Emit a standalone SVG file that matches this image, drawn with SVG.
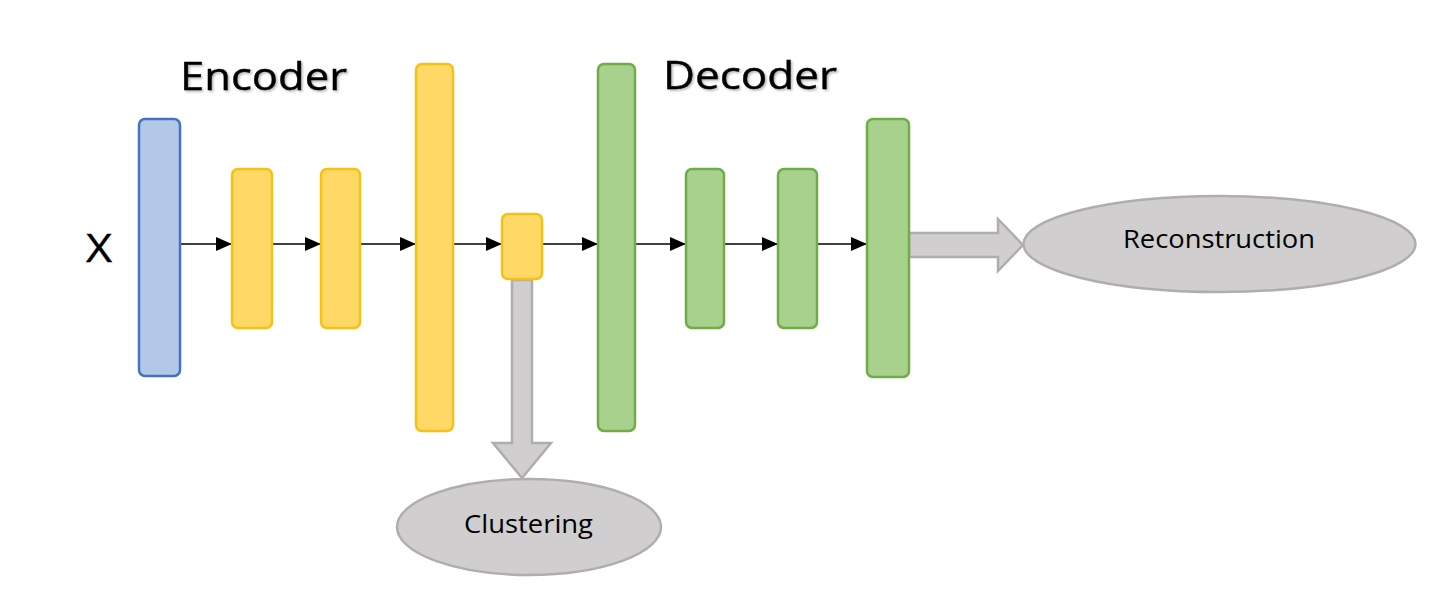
<svg xmlns="http://www.w3.org/2000/svg" width="1442" height="600" viewBox="0 0 1442 600">
  <style>
    .blue { fill: #b4c7e7; stroke: #4472c4; stroke-width: 2.5; }
    .yel { fill: #ffd966; stroke: #f5c116; stroke-width: 2.5; }
    .grn { fill: #a9d18e; stroke: #70ad47; stroke-width: 2.5; }
    .gry { fill: #d0cece; stroke: #b0adad; stroke-width: 2.5; }
    .conn { stroke: #000; stroke-width: 1.3; fill: none; marker-end: url(#ah); }
    .title { font-family: "Open Sans", "Liberation Sans", sans-serif; font-size: 38px; fill: #000; stroke: #000; stroke-width: 0.4; }
    .lbl { font-family: "Open Sans", "Liberation Sans", sans-serif; font-size: 25px; fill: #000; }
  </style>
  <defs>
    <marker id="ah" viewBox="0 0 16 14" refX="16" refY="7" markerWidth="16" markerHeight="14" markerUnits="userSpaceOnUse" orient="auto">
      <path d="M0,0 L16,7 L0,14 Z" fill="#000"/>
    </marker>
    <filter id="sh" x="-10%" y="-20%" width="120%" height="150%">
      <feDropShadow dx="1.5" dy="1.5" stdDeviation="1" flood-color="#000" flood-opacity="0.3"/>
    </filter>
  </defs>
  <rect width="1442" height="600" fill="#fff"/>

  <g id="labels">
    <text class="title" x="180" y="90" textLength="167" lengthAdjust="spacingAndGlyphs" filter="url(#sh)">Encoder</text>
    <text class="title" x="663" y="89" textLength="174" lengthAdjust="spacingAndGlyphs" filter="url(#sh)">Decoder</text>
    <text class="title" x="86" y="262" textLength="26" lengthAdjust="spacingAndGlyphs">X</text>
  </g>

  <g id="connectors">
    <line class="conn" x1="180" y1="244" x2="232" y2="244"/>
    <line class="conn" x1="272" y1="244" x2="321" y2="244"/>
    <line class="conn" x1="360" y1="244" x2="416" y2="244"/>
    <line class="conn" x1="453" y1="244" x2="502" y2="244"/>
    <line class="conn" x1="542" y1="244" x2="598" y2="244"/>
    <line class="conn" x1="635" y1="244" x2="686" y2="244"/>
    <line class="conn" x1="724" y1="244" x2="778" y2="244"/>
    <line class="conn" x1="817" y1="244" x2="867" y2="244"/>
    <path id="arrow-clustering" class="gry" d="M512,280 L532,280 L532,443 L551,443 L522,478 L493,443 L512,443 Z"/>
    <path id="arrow-reconstruction" class="gry" d="M909,233 L998,233 L998,219 L1023,245 L998,271 L998,257 L909,257 Z"/>
  </g>

  <g id="input-x"><rect class="blue" x="139" y="119" width="41" height="257" rx="6"/></g>
  <g id="enc1"><rect class="yel" x="232" y="169" width="40" height="159" rx="6"/></g>
  <g id="enc2"><rect class="yel" x="321" y="169" width="39" height="159" rx="6"/></g>
  <g id="enc3"><rect class="yel" x="416" y="64" width="37" height="367" rx="6"/></g>
  <g id="latent"><rect class="yel" x="502" y="214" width="40" height="65" rx="6"/></g>
  <g id="dec1"><rect class="grn" x="598" y="64" width="37" height="367" rx="6"/></g>
  <g id="dec2"><rect class="grn" x="686" y="169" width="38" height="159" rx="6"/></g>
  <g id="dec3"><rect class="grn" x="778" y="169" width="39" height="159" rx="6"/></g>
  <g id="dec4"><rect class="grn" x="867" y="119" width="42" height="258" rx="6"/></g>

  <g id="clustering">
    <ellipse class="gry" cx="529" cy="527" rx="132" ry="48"/>
    <text class="lbl" x="464" y="533" textLength="129" lengthAdjust="spacingAndGlyphs">Clustering</text>
  </g>
  <g id="reconstruction">
    <ellipse class="gry" cx="1219.5" cy="244" rx="196" ry="48"/>
    <text class="lbl" x="1123" y="248" textLength="192" lengthAdjust="spacingAndGlyphs">Reconstruction</text>
  </g>
</svg>
